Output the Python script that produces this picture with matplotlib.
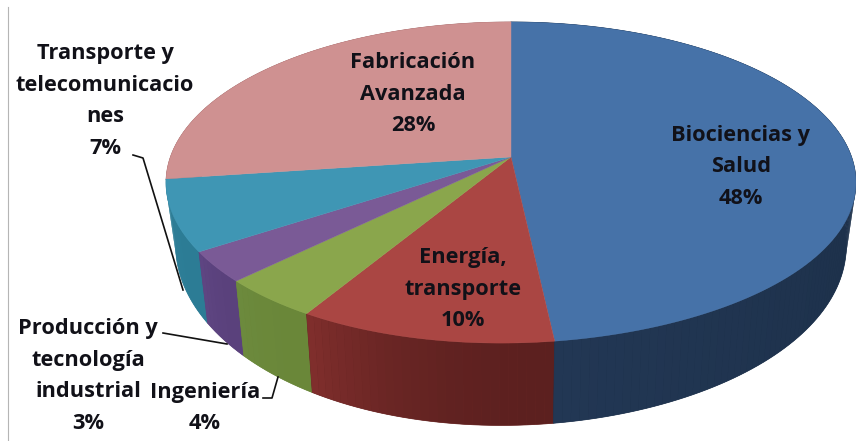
import numpy as np
import matplotlib
matplotlib.use('Agg')
import matplotlib.pyplot as plt

plt.rcParams['font.family'] = ['Open Sans', 'DejaVu Sans']

names = ["Biociencias y\nSalud", "Energía,\ntransporte", "Ingeniería",
         "Producción y\ntecnología\nindustrial", "Transporte y\ntelecomunicacio\nnes",
         "Fabricación\nAvanzada"]
shares = [48, 10, 4, 3, 7, 28]
top_colors = ['#4672a8', '#aa4643', '#8aa64c', '#7a5a96', '#3f96b4', '#cf9191']
side_left = ['#223754', '#7f2e2c', '#6c8a3d', '#5e4582', '#2f8099', '#a06a6a']
side_right = ['#1a2d45', '#5c201f', '#6a8739', '#5a417c', '#2c7c95', '#a06a6a']
label_pos = [(741, 167), (463, 289), (205, 408), (88, 376), (105, 101), (413, 94)]

# leader lines, from label to slice
leaders = {
    2: [(263, 398), (272, 398), (278, 377)],
    3: [(163, 333), (227, 344)],
    4: [(133, 155), (143, 158), (183, 290)],
}

CX, APEX = 511, 157
A, B, K = 340.6, 156.5, 0.159
DROP, YS, XS = 60, 1.12, 0.972
SWING = np.radians(3)
LEAN = 10


def top_xy(t):
    t = t - SWING * np.sin(t)
    u, v = np.sin(t), np.cos(t)
    d = 1 + K * v
    return CX + A * u / d - LEAN * np.clip(-v, 0, 1) ** 4, APEX - B * v / d


def bottom_xy(t):
    x, y = top_xy(t)
    return CX + XS * (x - CX), APEX + DROP + YS * (y - APEX)


def mix(c1, c2, f):
    a = np.array(matplotlib.colors.to_rgb(c1))
    b = np.array(matplotlib.colors.to_rgb(c2))
    return a + (b - a) * f


fig = plt.figure(figsize=(8.56, 4.41), dpi=100)
ax = fig.add_axes([0, 0, 1, 1])
ax.set_xlim(0, 856)
ax.set_ylim(441, 0)
ax.axis('off')

edges = np.radians(np.cumsum([0] + shares) * 3.6)

# side wall first, the top covers the hidden part; last slice is at the back
for i in range(len(shares) - 1, -1, -1):
    ts = np.linspace(edges[i], edges[i + 1], max(2, shares[i] * 3))
    x0, y0 = top_xy(ts)
    x1, y1 = bottom_xy(ts)
    ax.fill(np.r_[x0, x1[::-1]], np.r_[y0, y1[::-1]], color=mix(side_right[i], side_left[i], 0.4),
            lw=0.5)
    for j in range(len(ts) - 1):
        f = (j / max(1, len(ts) - 2)) ** 2
        # slices run clockwise, so on the front the end of the arc is the left side
        c = mix(side_right[i], side_left[i], f)
        ax.fill(np.r_[x0[j:j + 2], x1[j:j + 2][::-1]], np.r_[y0[j:j + 2], y1[j:j + 2][::-1]],
                color=c, lw=0)

for i in range(len(shares)):
    ts = np.linspace(edges[i], edges[i + 1], 120)
    x, y = top_xy(ts)
    ax.fill(np.r_[CX, x], np.r_[APEX, y], color=top_colors[i], lw=0.3, zorder=3)

for i, s in enumerate(shares):
    ax.text(label_pos[i][0], label_pos[i][1], f"{names[i]}\n{s}%", ha='center', va='center',
            fontsize=15.7, fontweight='bold', color='#111118', linespacing=1.65, zorder=5)

for pts in leaders.values():
    ax.plot([p[0] for p in pts], [p[1] for p in pts], color='#111111', lw=1.2, zorder=4)

# thin frame line on the left of the picture
ax.plot([8, 8], [7, 441], color='#b5b5b5', lw=0.8, zorder=1)

fig.savefig('out.png', dpi=100)
